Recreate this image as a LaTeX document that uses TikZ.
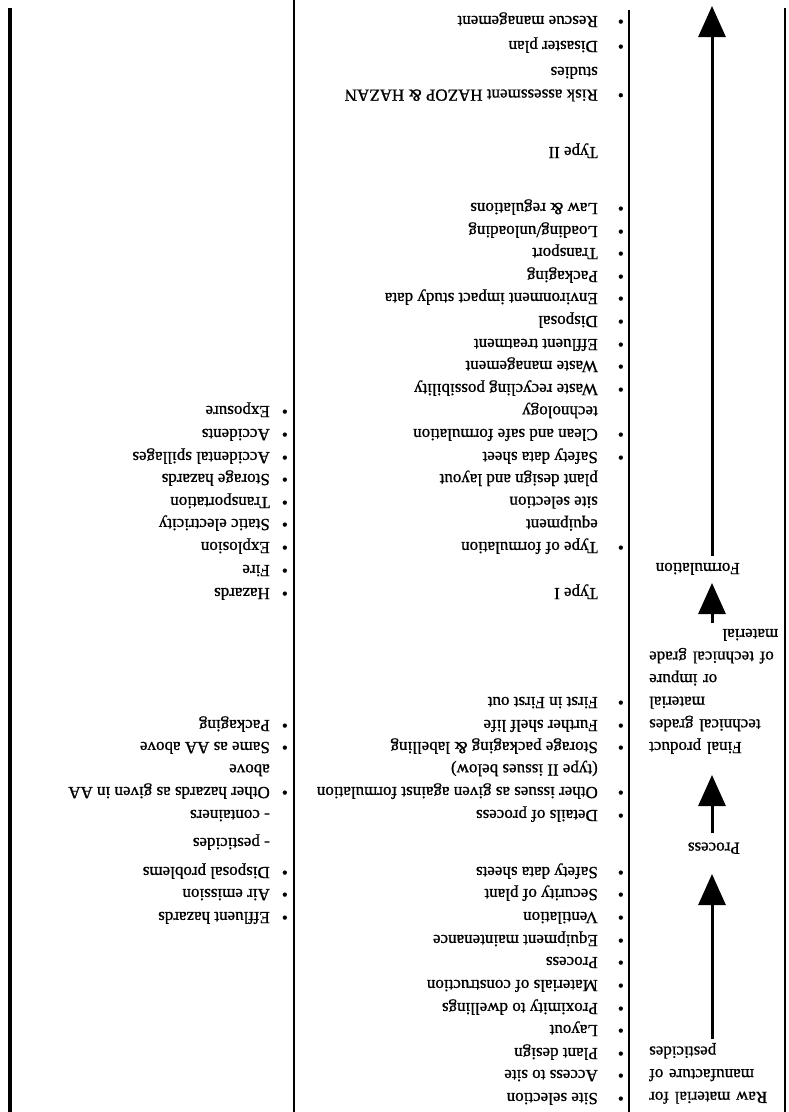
\documentclass[tikz,border=0pt]{standalone}
\usepackage{fontspec}
\setmainfont{Liberation Serif}[BoldFont={Liberation Serif},BoldFeatures={FakeBold=1}]
\usetikzlibrary{arrows.meta}

\newcommand{\mbul}{\makebox[26pt][l]{\textbullet}}
\newcommand{\mind}{\hspace*{26pt}}
\newcommand{\hbul}{\makebox[18pt][l]{\textbullet}}
\newcommand{\hind}{\hspace*{18pt}}
\newcommand{\tabfont}{\fontsize{17}{22.6}\selectfont\bfseries}

\tikzset{
  rule/.style={line width=2.8pt},
  flow/.style={line width=3pt,-{Triangle[width=27pt,length=31pt]}},
  entry/.style={rotate=180,anchor=base west,inner sep=0pt,align=left,font=\tabfont},
  stage/.style={rotate=180,inner sep=0pt,font=\tabfont},
}

\begin{document}
\begin{tikzpicture}[x=1pt,y=1pt,yscale=-1]
\useasboundingbox (0,0) rectangle (789,1112);

% column rules
\draw [rule,line width=4.5pt] (10,8) -- (10,1112);
\draw [rule] (294,0) -- (294,1112);
\draw [rule] (629,10) -- (629,1112);
\draw [rule] (785,8) -- (785,1112);

% stages
\node [stage,anchor=north east,text width=129pt,align=right] (raw) at (649,1104) {Raw material for\\manufacture of\\pesticides};
\node [stage,anchor=north west] (proc) at (740,854) {Process};
\node [stage,anchor=north east,text width=129pt,align=right] (final) at (649,754) {Final product\\technical grades\\material or impure\\of technical grade\\\makebox[129pt][l]{material}};
\node [stage,anchor=north west] (form) at (740,575) {Formulation};
\coordinate (ax) at (712,0);
\coordinate (top) at (712,6);

\draw [flow,shorten <=4pt,shorten >=20pt] (raw.south -| ax) -- (proc.north -| ax);
\draw [flow,shorten <=9pt,shorten >=21pt] (proc.south -| ax) -- (final.north -| ax);
\draw [flow,shorten <=6pt,shorten >=8pt] (final.south -| ax) -- (form.north -| ax);
\draw [flow,shorten <=7pt] (form.south -| ax) -- (top);

% middle column (multi-line entries sit on their last line)
\node [entry] (m1) at (624,16) {\mbul Rescue management};
\node [entry] (m2) at (624,41) {\mbul Disaster plan};
\node [entry] (m3) at (624,67) {\mbul Risk assessment HAZOP \& HAZAN\\\mind studies};
\node [entry] (m4) at (624,147) {\mind Type II};
\node [entry] (m5) at (624,203) {\mbul Law \& regulations};
\node [entry] (m6) at (624,226) {\mbul Loading/unloading};
\node [entry] (m7) at (624,248) {\mbul Transport};
\node [entry] (m8) at (624,271) {\mbul Packaging};
\node [entry] (m9) at (624,293) {\mbul Environment impact study data};
\node [entry] (m10) at (624,316) {\mbul Disposal};
\node [entry] (m11) at (624,339) {\mbul Effluent treatment};
\node [entry] (m12) at (624,361) {\mbul Waste management};
\node [entry] (m13) at (624,384) {\mbul Waste recycling possibility};
\node [entry] (m14) at (624,406.4) {\mbul Clean and safe formulation\\\mind technology};
\node [entry] (m15) at (624,452) {\mbul Safety data sheet};
\node [entry] (m16) at (624,474.2) {\mbul Type of formulation\\\mind equipment\\\mind site selection\\\mind plant design and layout};
\node [entry] (m17) at (624,588) {\mind Type I};
\node [entry] (m18) at (624,697) {\mbul First in First out};
\node [entry] (m19) at (624,720) {\mbul Further shelf life};
\node [entry] (m20) at (624,742) {\mbul Storage packaging \& labelling};
\node [entry] (m21) at (624,764.4) {\mbul Other issues as given against formulation\\\mind (type II issues below)};
\node [entry] (m22) at (624,810) {\mbul Details of process};
\node [entry] (m23) at (624,867) {\mbul Safety data sheets};
\node [entry] (m24) at (624,889) {\mbul Security of plant};
\node [entry] (m25) at (624,912) {\mbul Ventilation};
\node [entry] (m26) at (624,935) {\mbul Equipment maintenance};
\node [entry] (m27) at (624,957) {\mbul Process};
\node [entry] (m28) at (624,980) {\mbul Materials of construction};
\node [entry] (m29) at (624,1003) {\mbul Proximity to dwellings};
\node [entry] (m30) at (624,1025) {\mbul Layout};
\node [entry] (m31) at (624,1048) {\mbul Plant design};
\node [entry] (m32) at (624,1070) {\mbul Access to site};
\node [entry] (m33) at (624,1093) {\mbul Site selection};

% hazards column
\node [entry] (h1) at (288,406) {\hbul Exposure};
\node [entry] (h2) at (288,429) {\hbul Accidents};
\node [entry] (h3) at (288,452) {\hbul Accidental spillages};
\node [entry] (h4) at (288,474) {\hbul Storage hazards};
\node [entry] (h5) at (288,497) {\hbul Transportation};
\node [entry] (h6) at (288,519) {\hbul Static electricity};
\node [entry] (h7) at (288,542) {\hbul Explosion};
\node [entry] (h8) at (288,565) {\hbul Fire};
\node [entry] (h9) at (288,588) {\hbul Hazards};
\node [entry] (h10) at (288,720) {\hbul Packaging};
\node [entry] (h11) at (288,742) {\hbul Same as AA above};
\node [entry] (h12) at (288,764.4) {\hbul Other hazards as given in AA\\\hind above};
\node [entry] (h13) at (288,810) {\hind - containers};
\node [entry] (h14) at (288,838) {\hind - pesticides};
\node [entry] (h15) at (288,867) {\hbul Disposal problems};
\node [entry] (h16) at (288,889) {\hbul Air emission};
\node [entry] (h17) at (288,912) {\hbul Effluent hazards};
\end{tikzpicture}
\end{document}
